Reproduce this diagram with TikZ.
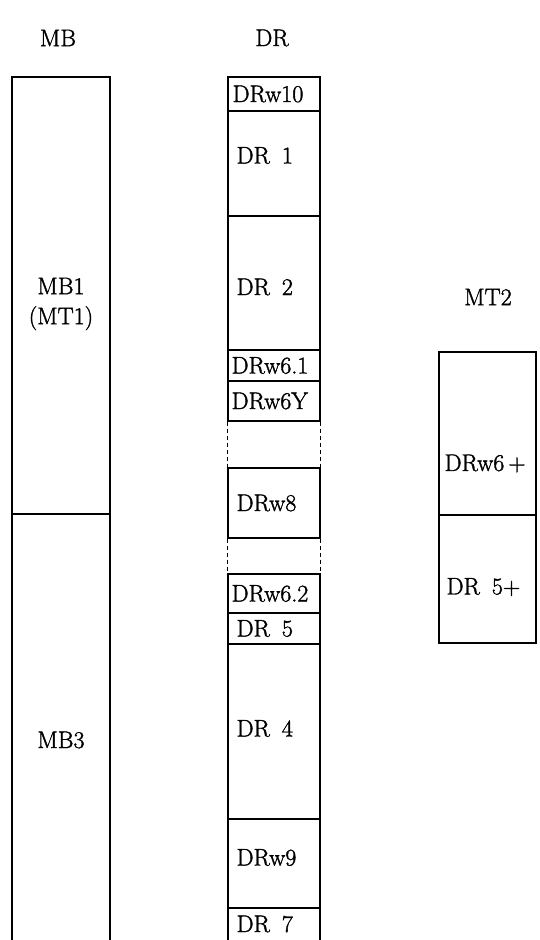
\documentclass[tikz,border=0pt]{standalone}
\usepackage{fontspec}
\newfontfamily\heavyfont{Latin Modern Roman}[FakeBold=1.5]
\begin{document}
\begin{tikzpicture}[x=1pt,y=-1pt,
  every node/.style={font=\heavyfont\fontsize{24}{30}\selectfont},
  cell/.style={draw, line width=1.2pt, inner sep=0pt, minimum width=#1},
  cell/.default=92pt,
  lab/.style={anchor=west, inner sep=0pt},
  ctr/.style={inner sep=0pt},
  gap/.style={line width=1.2pt, dash pattern=on 4pt off 3pt}]
\clip (0,0) rectangle (540,940);
% headings
\node[ctr] (hMB) at (58,38) {MB};
\node[ctr] (hDR) at (272,38) {DR};
\node[ctr] (hMT) at (488,297) {MT2};
% MB column
\node[cell=98pt, minimum height=437pt] (mb1) at (61,295.5) {};
\node[cell=98pt, minimum height=440pt] (mb3) at (61,734) {};
\node[ctr, align=center] (lmb1) at (61,304) {MB1\\(MT1)};
\node[ctr] (lmb3) at (61,740) {MB3};
% DR column
\node[cell, minimum height=34pt] (w10) at (274,94) {};
\node[cell, minimum height=105pt] (dr1) at (274,163.5) {};
\node[cell, minimum height=134pt] (dr2) at (274,283) {};
\node[cell, minimum height=31pt] (w61) at (274,365.5) {};
\node[cell, minimum height=40pt] (w6y) at (274,401) {};
\node[cell, minimum height=70pt] (w8) at (274,503) {};
\node[cell, minimum height=39pt] (w62) at (274,593.5) {};
\node[cell, minimum height=31pt] (dr5) at (274,628.5) {};
\node[cell, minimum height=175pt] (dr4) at (274,731.5) {};
\node[cell, minimum height=89pt] (w9) at (274,863.5) {};
\node[cell, minimum height=50pt] (dr7) at (274,933) {};
\draw[gap] (w6y.south west) -- (w8.north west);
\draw[gap] (w6y.south east) -- (w8.north east);
\draw[gap] (w8.south west) -- (w62.north west);
\draw[gap] (w8.south east) -- (w62.north east);
\node[lab] at ([xshift=5pt]w10.west) {DRw10};
\node[lab] at ([xshift=9pt,yshift=8pt]dr1.west) {DR\hspace{0.5em}1};
\node[lab] at ([xshift=9pt,yshift=-4pt]dr2.west) {DR\hspace{0.5em}2};
\node[lab] at ([xshift=4pt]w61.west) {DRw6.1};
\node[lab] at ([xshift=4pt]w6y.west) {DRw6Y};
\node[lab] at ([xshift=9pt]w8.west) {DRw8};
\node[lab] at ([xshift=4pt]w62.west) {DRw6.2};
\node[lab] at ([xshift=9pt]dr5.west) {DR\hspace{0.5em}5};
\node[lab] at ([xshift=9pt,yshift=3pt]dr4.west) {DR\hspace{0.5em}4};
\node[lab] at ([xshift=9pt,yshift=6pt]w9.west) {DRw9};
\node[lab] at ([xshift=9pt,yshift=9pt]dr7.west) {DR\hspace{0.5em}7};
% MT2 column
\node[cell=97pt, minimum height=163pt] (t1) at (487.5,433.5) {};
\node[cell=97pt, minimum height=128pt] (t2) at (487.5,579) {};
\node[lab] at ([xshift=6pt,yshift=-30pt]t1.west) {DRw6\,+};
\node[lab] at ([xshift=8pt,yshift=-8pt]t2.west) {DR\hspace{0.5em}5+};
\end{tikzpicture}
\end{document}
